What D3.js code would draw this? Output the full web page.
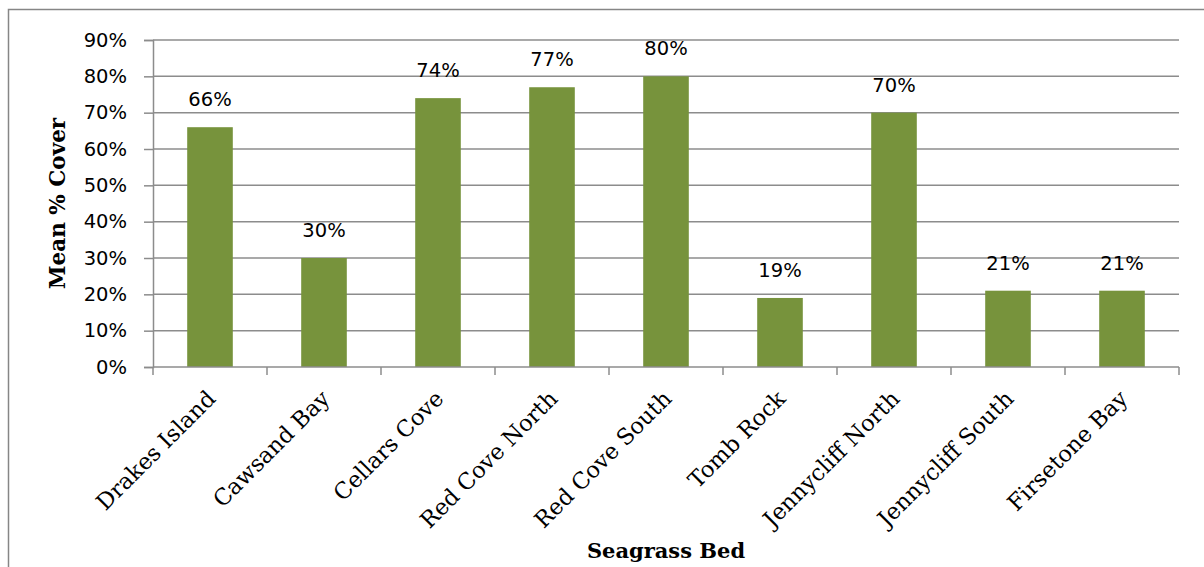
<!DOCTYPE html>
<html>
<head>
<meta charset="utf-8">
<script src="https://cdn.jsdelivr.net/npm/d3@7"></script>
<style>
  html, body { margin: 0; padding: 0; background: #fff; }
  svg { display: block; }
</style>
</head>
<body>
<script>
// Seagrass beds and their mean percentage cover
const beds = ["Drakes Island", "Cawsand Bay", "Cellars Cove", "Red Cove North", "Red Cove South",
              "Tomb Rock", "Jennycliff North", "Jennycliff South", "Firsetone Bay"];
const meanCover = [66, 30, 74, 77, 80, 19, 70, 21, 21];
const yTicks = [0, 10, 20, 30, 40, 50, 60, 70, 80, 90];

const W = 1204, H = 567;
const margin = { left: 153, right: 25, top: 40, bottom: 200 };
const plotRight = W - margin.right;   // 1179
const plotBottom = 367;

const svg = d3.select("body").append("svg")
  .attr("width", W).attr("height", H);

// chart frame
svg.append("rect")
  .attr("x", 8.5).attr("y", 9.5)
  .attr("width", W + 10).attr("height", H + 10)
  .attr("fill", "#fff").attr("stroke", "#868686").attr("stroke-width", 1.5);

const x = d3.scaleBand().domain(beds).range([margin.left, plotRight]).paddingInner(0.6).paddingOuter(0.3);
const xEdge = d3.scaleLinear().domain([0, beds.length]).range([margin.left, plotRight]);
const y = d3.scaleLinear().domain([0, 90]).range([plotBottom, margin.top]);

const grey = "#8c8c8c";

// horizontal gridlines
svg.append("g").selectAll("line").data(yTicks.filter(d => d > 0)).join("line")
  .attr("x1", margin.left).attr("x2", plotRight)
  .attr("y1", d => y(d)).attr("y2", d => y(d))
  .attr("stroke", grey).attr("stroke-width", 1.5);

// y axis
const yAxis = svg.append("g")
  .attr("transform", `translate(${margin.left},0)`)
  .call(d3.axisLeft(y).tickValues(yTicks).tickFormat(d => d + "%").tickSize(9).tickPadding(17));
yAxis.select(".domain").attr("stroke", grey).attr("stroke-width", 1.5);
yAxis.selectAll(".tick line").attr("stroke", grey).attr("stroke-width", 1.5);
yAxis.selectAll(".tick text")
  .attr("font-family", "'DejaVu Sans', sans-serif").attr("font-size", 19.5).attr("fill", "#000");

// bars
svg.append("g").selectAll("rect").data(meanCover).join("rect")
  .attr("x", (d, i) => x(beds[i]))
  .attr("width", x.bandwidth())
  .attr("y", d => y(d))
  .attr("height", d => plotBottom - y(d))
  .attr("fill", "#77933c");

// x axis with category boundary ticks
const xAxisG = svg.append("g").attr("transform", `translate(0,${plotBottom})`);
xAxisG.append("line").attr("x1", margin.left).attr("x2", plotRight)
  .attr("stroke", grey).attr("stroke-width", 1.5);
xAxisG.selectAll("line.tk").data(d3.range(beds.length + 1)).join("line")
  .attr("class", "tk")
  .attr("x1", d => xEdge(d)).attr("x2", d => xEdge(d))
  .attr("y1", 0).attr("y2", 8)
  .attr("stroke", grey).attr("stroke-width", 1.5);

// category labels rotated 45 degrees
xAxisG.selectAll("text").data(beds).join("text")
  .attr("transform", d => `translate(${x(d) + x.bandwidth() / 2 + 7},${33}) rotate(-45)`)
  .attr("text-anchor", "end")
  .attr("font-family", "'DejaVu Serif', serif").attr("font-size", 22.5)
  .attr("fill", "#000")
  .text(d => d);

// value labels
svg.append("g").selectAll("text").data(meanCover).join("text")
  .attr("x", (d, i) => x(beds[i]) + x.bandwidth() / 2)
  .attr("y", d => y(d) - 21)
  .attr("text-anchor", "middle")
  .attr("font-family", "'DejaVu Sans', sans-serif").attr("font-size", 19.5)
  .attr("fill", "#000")
  .text(d => d + "%");

// axis titles
svg.append("text")
  .attr("transform", `translate(65,${(margin.top + plotBottom) / 2}) rotate(-90)`)
  .attr("text-anchor", "middle")
  .attr("font-family", "'DejaVu Serif', serif").attr("font-weight", "bold").attr("font-size", 21.5)
  .text("Mean % Cover");

svg.append("text")
  .attr("x", (margin.left + plotRight) / 2).attr("y", 558)
  .attr("text-anchor", "middle")
  .attr("font-family", "'DejaVu Serif', serif").attr("font-weight", "bold").attr("font-size", 21)
  .text("Seagrass Bed");
</script>
</body>
</html>
